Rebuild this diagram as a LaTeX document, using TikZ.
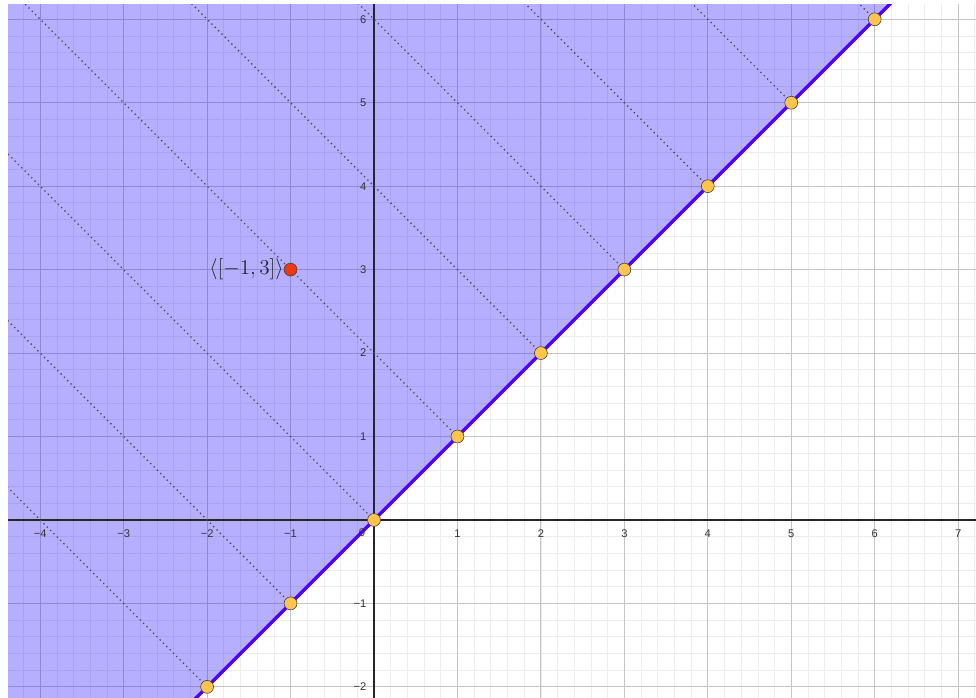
\documentclass[tikz,border=0pt]{standalone}
\usepackage{fontspec}
\setsansfont{Liberation Sans}
\usepackage{tkz-euclide}
\usetikzlibrary{calc}
\definecolor{RegionClr}{RGB}{60,40,255}
\definecolor{LineClr}{RGB}{77,0,255}
\definecolor{PointClr}{RGB}{255,196,77}
\definecolor{RedClr}{RGB}{238,56,20}
\definecolor{MinorClr}{RGB}{236,236,236}
\definecolor{MajorClr}{RGB}{196,196,196}
\tikzset{axislbl/.style={font=\fontsize{7.6}{9}\sffamily,text=black!80,inner sep=0pt}}

\begin{document}
\begin{tikzpicture}[scale=2]
\useasboundingbox (-4.482,-2.133) rectangle (7.214,6.231);
\tkzSetUpPoint[size=8.8,color=black!75,fill=PointClr]

\foreach \k [count=\i from 0] in {-2,...,6}
  {\tkzDefPoint(\k,\k){P\i}}
\tkzDefPoints{-1/3/R}

\begin{scope}
\clip (-4.386,-2.133) rectangle (7.214,6.183);
\draw[MinorClr,line width=.5pt,step=.2] (-4.6,-2.4) grid (7.4,6.4);
\draw[MajorClr,line width=.7pt,step=1] (-5,-3) grid (8,7);
\fill[RegionClr,fill opacity=.375] (-5,-5) -- (8,8) -- (-5,8) -- cycle;
\draw[black!85,line width=.9pt] (-5,0) -- (8,0) (0,-3) -- (0,7);

\foreach \i in {0,...,8}
  {\draw[black!70,line width=.9pt,dash pattern=on .9pt off 2.3pt] (P\i) -- ($(P\i)+(-9,9)$);}

\draw[LineClr,line width=2.3pt] ($(P0)!-0.2!(P8)$) -- ($(P0)!1.2!(P8)$);
\end{scope}

% axis numbers
\foreach \x/\t in {-4/−4,-3/−3,-2/−2,-1/−1,1/1,2/2,3/3,4/4,5/5,6/6,7/7}
  {\node[axislbl] at (\x,-.16) {\t};}
\foreach \y/\t in {-2/−2,-1/−1,1/1,2/2,3/3,4/4,5/5,6/6}
  {\node[axislbl,anchor=east] at (-.09,\y) {\t};}
\node[axislbl] at (-.144,-.156) {0};

\tkzDrawPoints(P0,P1,P2,P3,P4,P5,P6,P7,P8)
\tkzDrawPoints[fill=RedClr](R)

\tkzLabelPoint[left,inner sep=4.5pt,font=\fontsize{15.4}{18}\selectfont,text=black!85](R){$\langle[-1,3]\rangle$}
\end{tikzpicture}
\end{document}
